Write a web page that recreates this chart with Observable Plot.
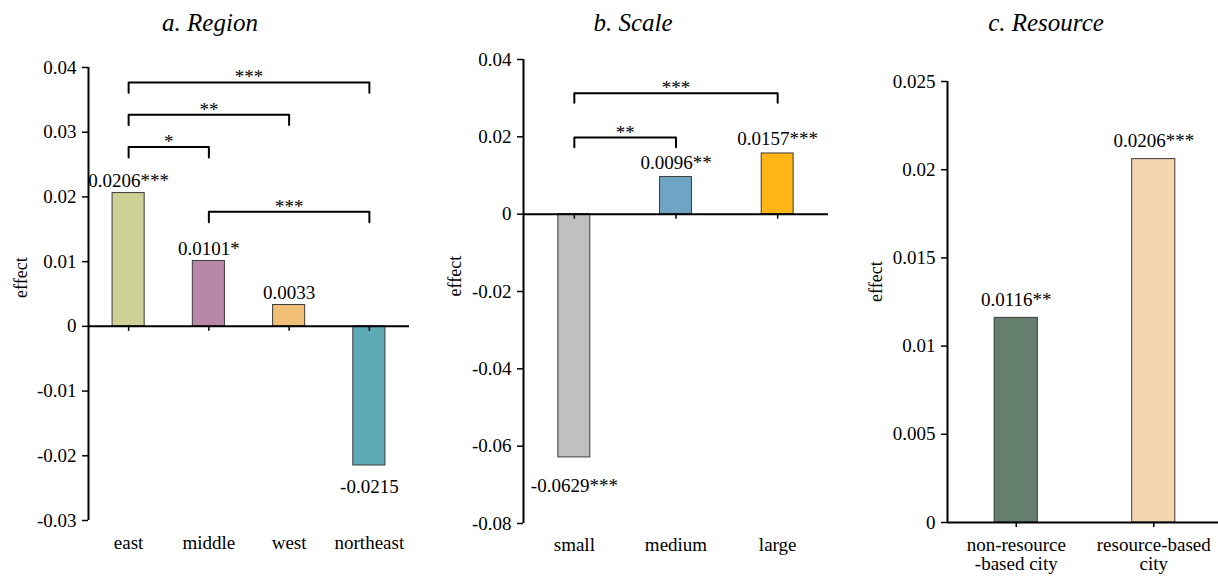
<!DOCTYPE html>
<html><head><meta charset="utf-8">
<script src="https://cdn.jsdelivr.net/npm/d3@7"></script>
<script src="https://cdn.jsdelivr.net/npm/@observablehq/plot@0.6"></script>
<style>
html,body{margin:0;padding:0;background:#fff;overflow:hidden}
#wrap{position:relative;width:1218px;height:576px;font-family:"Liberation Serif",Tinos,"Times New Roman",Times,"DejaVu Serif",serif;color:#000}
.panel{position:absolute;top:0}
.title{position:absolute;top:10px;font-style:italic;font-size:25px;line-height:1;transform:translateX(-50%);white-space:nowrap}
svg text{font-family:"Liberation Serif",Tinos,"Times New Roman",Times,"DejaVu Serif",serif !important}
</style></head><body><div id="wrap"></div>
<script>
// ---- data ----
const regionCategories = ["east", "middle", "west", "northeast"];
const regionValues = [0.0206, 0.0101, 0.0033, -0.0215];
const regionSig = ["***", "*", "", ""];
const regionTicks = [-0.03, -0.02, -0.01, 0, 0.01, 0.02, 0.03, 0.04];
const regionColors = ["#CDD195", "#B987A8", "#F0BE77", "#5FABB5"];
const regionBrackets = [
  {from: "east", to: "northeast", stars: "***", level: 0.0377},
  {from: "east", to: "west", stars: "**", level: 0.0327},
  {from: "east", to: "middle", stars: "*", level: 0.0277},
  {from: "middle", to: "northeast", stars: "***", level: 0.0177}
];

const scaleCategories = ["small", "medium", "large"];
const scaleValues = [-0.0629, 0.0096, 0.0157];
const scaleSig = ["***", "**", "***"];
const scaleTicks = [-0.08, -0.06, -0.04, -0.02, 0, 0.02, 0.04];
const scaleColors = ["#C0C0C0", "#6FA4C4", "#FEB515"];
const scaleBrackets = [
  {from: "small", to: "large", stars: "***", level: 0.0313},
  {from: "small", to: "medium", stars: "**", level: 0.0198}
];

const resourceCategories = ["non-resource\n-based city", "resource-based\ncity"];
const resourceValues = [0.0116, 0.0206];
const resourceSig = ["**", "***"];
const resourceTicks = [0, 0.005, 0.01, 0.015, 0.02, 0.025];
const resourceColors = ["#657F6F", "#F3D6AF"];
const resourceBrackets = [];

// ---- drawing ----
const FONT = '"Liberation Serif",Tinos,"Times New Roman",Times,"DejaVu Serif",serif';
const fmt = d => `${+(+d).toFixed(4)}`;

function panel(cfg) {
  const {cats, vals, sig, colors, ticks, brackets} = cfg;
  const n = cats.length;
  const idx = c => cats.indexOf(c);
  const data = cats.map((c, i) => ({i, value: vals[i], color: colors[i], label: vals[i].toFixed(4) + sig[i]}));
  const bracketPts = brackets.flatMap((b, k) => [
    {k, x: idx(b.from), y: b.level - cfg.drop},
    {k, x: idx(b.from), y: b.level},
    {k, x: idx(b.to), y: b.level},
    {k, x: idx(b.to), y: b.level - cfg.drop}
  ]);
  return Plot.plot({
    width: cfg.width, height: 576,
    marginLeft: cfg.marginLeft, marginRight: cfg.marginRight,
    marginTop: cfg.marginTop, marginBottom: cfg.marginBottom,
    x: {domain: [-0.5, n - 0.5], ...(cfg.xRange ? {range: cfg.xRange} : {})},
    y: {domain: cfg.yDomain},
    color: {type: "identity"},
    style: {fontFamily: FONT, fontSize: "19px", background: "white", color: "black", overflow: "visible"},
    marks: [
      Plot.rect(data, {x1: d => d.i - cfg.barHalf, x2: d => d.i + cfg.barHalf, y1: 0, y2: "value", fill: "color", stroke: "#3c3c3c", strokeWidth: 1}),
      Plot.ruleY([0], {stroke: "black", strokeWidth: 2}),
      Plot.ruleX([-0.5], {stroke: "black", strokeWidth: 2}),
      Plot.ruleX(d3.range(n), {x: d => d, y1: 0, y2: 0, insetBottom: -5, stroke: "black", strokeWidth: 1.5}),
      Plot.axisY({ticks, tickFormat: fmt, tickSize: 6, tickPadding: 6, label: null, strokeWidth: 1.5, fontSize: 19}),
      Plot.axisX({ticks: d3.range(n), tickFormat: i => cats[i], tickSize: 0, tickPadding: cfg.xPad, label: null, fontSize: 19, lineHeight: 1}),
      Plot.line(bracketPts, {x: "x", y: "y", z: "k", stroke: "black", strokeWidth: 2}),
      Plot.text(brackets, {x: b => (idx(b.from) + idx(b.to)) / 2, y: "level", text: "stars", lineAnchor: "bottom", dy: 1, fontSize: 19}),
      Plot.text(data.filter(d => d.value >= 0), {x: "i", y: "value", text: "label", lineAnchor: "bottom", dy: cfg.posDy, fontSize: 19}),
      Plot.text(data.filter(d => d.value < 0), {x: "i", y: "value", text: "label", lineAnchor: "bottom", dy: cfg.negDy, fontSize: 19}),
      Plot.text(["effect"], {frameAnchor: "left", rotate: -90, dx: cfg.labelDx, dy: cfg.labelDy, fontSize: 18})
    ]
  });
}

const wrap = document.getElementById("wrap");
function place(node, left) {
  const div = document.createElement("div");
  div.className = "panel";
  div.style.left = left + "px";
  div.appendChild(node);
  wrap.appendChild(div);
}
function title(text, cx) {
  const t = document.createElement("div");
  t.className = "title";
  t.style.left = cx + "px";
  t.textContent = text;
  wrap.appendChild(t);
}

place(panel({
  cats: regionCategories, vals: regionValues, sig: regionSig, colors: regionColors,
  ticks: regionTicks, brackets: regionBrackets, drop: 0.0016,
  width: 420, marginLeft: 88, marginRight: 11, marginTop: 67, marginBottom: 56,
  yDomain: [-0.03, 0.04], barHalf: 0.2, posDy: -6, negDy: 28, xPad: 15,
  labelDx: -67, labelDy: 4
}), 0);

place(panel({
  cats: scaleCategories, vals: scaleValues, sig: scaleSig, colors: scaleColors,
  ticks: scaleTicks, brackets: scaleBrackets, drop: 0.0025,
  width: 400, marginLeft: 93, marginRight: 2, marginTop: 59, marginBottom: 53,
  yDomain: [-0.08, 0.04], barHalf: 0.157, posDy: -8, negDy: 35, xPad: 14,
  labelDx: -68, labelDy: 5
}), 430);

place(panel({
  cats: resourceCategories, vals: resourceValues, sig: resourceSig, colors: resourceColors,
  ticks: resourceTicks, brackets: resourceBrackets, drop: 0,
  width: 378, marginLeft: 107, marginRight: 0, marginTop: 81, marginBottom: 54,
  xRange: [107, 382],
  yDomain: [0, 0.025], barHalf: 0.157, posDy: -12, negDy: 30, xPad: 15,
  labelDx: -71, labelDy: 0
}), 840);

title("a. Region", 210);
title("b. Scale", 633);
title("c. Resource", 1046);
</script>
</body></html>
